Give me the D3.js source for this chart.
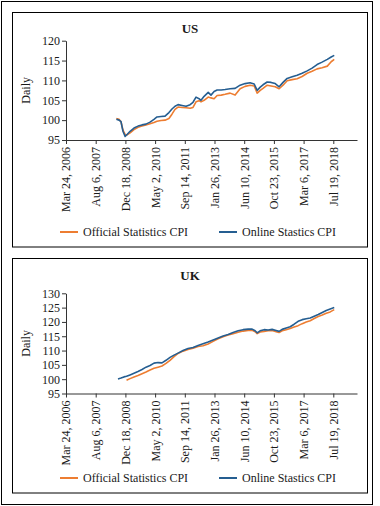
<!DOCTYPE html>
<html>
<head>
<meta charset="utf-8">
<script src="https://cdn.jsdelivr.net/npm/d3@7"></script>
<style>
  html, body { margin: 0; padding: 0; background: #fff; }
  svg { display: block; }
  text { font-family: "Liberation Serif", "Times New Roman", serif; fill: #1a1a1a; }
</style>
</head>
<body>
<svg id="chart" width="380" height="506"></svg>
<script>
// ---------- DATA ----------
const tickDates = ["2006-03-24","2007-08-06","2008-12-18","2010-05-02","2011-09-14",
                   "2013-01-26","2014-06-10","2015-10-23","2017-03-06","2018-07-19"];
const tickLabels = ["Mar 24, 2006","Aug 6, 2007","Dec 18, 2008","May 2, 2010","Sep 14, 2011",
                    "Jan 26, 2013","Jun 10, 2014","Oct 23, 2015","Mar 6, 2017","Jul 19, 2018"];
const xDomain = ["2006-03-24", "2019-08-22"];

const seriesNames = ["Official Statistics CPI", "Online Stastics CPI"];
const seriesColors = ["#ED7D31", "#255E91"];

const usDates = ["2008-07-19","2008-09-02","2008-10-05","2008-11-07","2008-12-13","2009-01-15",
  "2009-03-07","2009-05-12","2009-07-19","2009-09-23","2009-11-28","2010-02-06","2010-04-13",
  "2010-06-03","2010-08-11","2010-10-16","2010-12-21","2011-02-10","2011-04-02","2011-05-23",
  "2011-07-31","2011-10-05","2011-12-13","2012-01-30","2012-03-21","2012-05-11","2012-06-13",
  "2012-08-04","2012-10-12","2012-11-28","2013-01-19","2013-03-11","2013-05-19","2013-07-24",
  "2013-10-16","2014-01-08","2014-04-02","2014-06-25","2014-09-17","2014-11-25","2015-01-15",
  "2015-03-07","2015-04-23","2015-07-02","2015-09-06","2015-11-14","2016-01-19","2016-03-25",
  "2016-06-02","2016-08-25","2016-11-17","2017-02-09","2017-05-05","2017-07-27","2017-10-19",
  "2018-01-11","2018-04-09","2018-06-13","2018-08-04"];
const usOfficial = [100.4,100.2,99.6,97.5,96.4,96.3,96.8,97.6,98.2,98.5,98.8,99.1,99.4,
  99.7,99.9,100.0,100.4,101.5,102.7,103.3,103.2,103.1,103.0,103.2,104.6,104.9,104.6,
  105.0,105.8,105.6,105.4,106.2,106.3,106.5,106.8,106.3,107.9,108.5,108.8,108.6,106.8,
  107.5,108.0,108.8,108.6,108.4,107.9,108.8,109.9,110.2,110.4,111.0,111.8,112.3,112.9,
  113.2,113.6,114.7,115.3];
const usOnline = [100.2,100.0,99.6,97.2,95.9,96.4,97.2,98.0,98.5,98.8,99.0,99.5,100.2,
  100.8,100.9,101.0,101.9,102.8,103.5,103.9,103.7,103.5,103.9,104.5,105.8,105.4,105.0,
  106.0,107.0,106.3,107.2,107.6,107.6,107.7,107.9,108.0,108.8,109.2,109.4,109.1,107.5,
  108.3,108.9,109.6,109.5,109.2,108.4,109.5,110.5,110.9,111.3,111.8,112.4,113.1,114.0,
  114.6,115.3,115.9,116.3];

const ukDates = ["2008-08-15","2008-10-05","2008-11-24","2009-01-06","2009-03-06","2009-05-12",
  "2009-07-18","2009-09-24","2009-11-30","2010-02-06","2010-04-14","2010-06-20","2010-08-26",
  "2010-11-02","2011-01-08","2011-03-17","2011-05-23","2011-08-15","2011-11-07","2012-01-31",
  "2012-04-24","2012-07-17","2012-10-10","2013-01-03","2013-03-28","2013-06-20","2013-09-12",
  "2013-12-05","2014-02-28","2014-05-23","2014-08-15","2014-10-22","2014-12-11","2015-01-14",
  "2015-03-05","2015-05-12","2015-07-18","2015-09-23","2015-11-29","2016-01-19","2016-03-10",
  "2016-05-17","2016-07-23","2016-09-28","2016-12-04","2017-02-11","2017-04-19","2017-06-25",
  "2017-09-01","2017-11-07","2018-01-14","2018-03-22","2018-05-28","2018-08-04"];
const ukOfficial = [null,null,null,99.6,100.2,100.8,101.3,101.9,102.5,103.2,103.8,104.2,104.6,
  105.5,106.6,107.9,109.0,109.8,110.4,110.8,111.4,111.7,112.3,113.2,114.1,114.8,115.4,
  115.9,116.4,116.8,117.0,117.1,116.6,115.9,116.5,116.7,116.9,117.0,116.6,116.3,116.9,
  117.3,117.7,118.2,118.7,119.4,120.0,120.4,121.2,121.9,122.4,123.0,123.5,124.3];
const ukOnline = [100.1,100.4,100.8,101.0,101.5,102.1,102.7,103.4,104.2,104.8,105.6,105.8,105.7,
  106.6,107.6,108.4,109.1,110.0,110.7,111.1,111.8,112.4,113.0,113.7,114.4,115.1,115.6,
  116.3,116.9,117.3,117.5,117.5,116.9,116.2,116.9,117.3,117.2,117.4,117.0,116.7,117.4,
  117.9,118.3,119.2,120.2,120.8,121.1,121.4,122.0,122.6,123.3,124.0,124.5,125.0];

const usTicks = [95,100,105,110,115,120];
const ukTicks = [95,100,105,110,115,120,125,130];

// ---------- DRAW ----------
const parse = d3.timeParse("%Y-%m-%d");
const svg = d3.select("#chart");

svg.append("rect").attr("x",1.5).attr("y",1.5).attr("width",371).attr("height",503)
  .attr("fill","none").attr("stroke","#000").attr("stroke-width",1);

const panels = [
  {title:"US", dates:usDates, series:[usOfficial, usOnline], ticks:usTicks, domain:[95,120],
   box:[12.5,12.5,355,234.5], plotTop:40.7, plotBottom:140, titleY:33, legendY:232},
  {title:"UK", dates:ukDates, series:[ukOfficial, ukOnline], ticks:ukTicks, domain:[95,130],
   box:[12.5,258.5,355,234.5], plotTop:293.3, plotBottom:393.5, titleY:280, legendY:478}
];

const x = d3.scaleTime().domain(xDomain.map(parse)).range([66, 357]);

panels.forEach(p => {
  const g = svg.append("g");
  g.append("rect").attr("x",p.box[0]).attr("y",p.box[1]).attr("width",p.box[2]).attr("height",p.box[3])
    .attr("fill","none").attr("stroke","#000").attr("stroke-width",1);

  g.append("text").attr("x",190).attr("y",p.titleY).attr("text-anchor","middle")
    .attr("font-weight","bold").attr("font-size",13).text(p.title);

  const y = d3.scaleLinear().domain(p.domain).range([p.plotBottom, p.plotTop]);

  // y axis
  const ya = g.append("g").attr("transform",`translate(66,0)`)
    .call(d3.axisLeft(y).tickValues(p.ticks).tickSize(4).tickPadding(2).tickSizeOuter(0));
  ya.selectAll("text").attr("font-size",12).attr("font-family","Liberation Serif").attr("fill","#1a1a1a");
  ya.selectAll("line,path").attr("stroke","#333");

  // x axis
  const xa = g.append("g").attr("transform",`translate(0,${p.plotBottom})`)
    .call(d3.axisBottom(x).tickValues(tickDates.map(parse)).tickSize(4).tickSizeOuter(0)
      .tickFormat((d,i) => tickLabels[i]));
  xa.selectAll("line,path").attr("stroke","#333");
  xa.selectAll("text")
    .attr("font-size",12).attr("font-family","Liberation Serif").attr("fill","#1a1a1a")
    .attr("text-anchor","end")
    .attr("transform","rotate(-90)")
    .attr("x",-7).attr("y",0).attr("dy","0.33em");

  // y title
  g.append("text").attr("transform",`translate(30,${(p.plotTop+p.plotBottom)/2}) rotate(-90)`)
    .attr("text-anchor","middle").attr("font-size",12).text("Daily");

  // lines
  const dates = p.dates.map(parse);
  p.series.forEach((vals, si) => {
    const line = d3.line()
      .defined((d,i) => vals[i] != null)
      .x((d,i) => x(dates[i])).y((d,i) => y(vals[i]))
      .curve(d3.curveLinear);
    g.append("path").datum(vals).attr("fill","none")
      .attr("stroke",seriesColors[si]).attr("stroke-width",1.6)
      .attr("stroke-linejoin","round").attr("d",line);
  });

  // legend
  const lx = [60, 219];
  seriesNames.forEach((n, si) => {
    g.append("line").attr("x1",lx[si]).attr("x2",lx[si]+18).attr("y1",p.legendY).attr("y2",p.legendY)
      .attr("stroke",seriesColors[si]).attr("stroke-width",2);
    g.append("text").attr("x",lx[si]+23).attr("y",p.legendY).attr("dy","0.35em")
      .attr("font-size",12).text(n);
  });
});
</script>
</body>
</html>
